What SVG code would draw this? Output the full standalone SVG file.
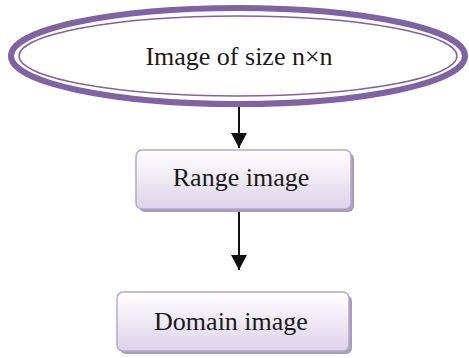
<svg xmlns="http://www.w3.org/2000/svg" width="469" height="358" viewBox="0 0 469 358">
<style>
.t{font-family:"Liberation Serif","Times New Roman",serif;font-size:26px;fill:#1a1a1a;text-anchor:middle}
.box{fill:url(#g);stroke:#b5a8cc;stroke-width:1.5}
.sh{fill:#a89cbc}
.c{stroke:#111;stroke-width:2;fill:none}
</style>
<defs>
<linearGradient id="g" x1="0" y1="0" x2="0" y2="1">
<stop offset="0" stop-color="#ffffff"/>
<stop offset="1" stop-color="#ddd3ea"/>
</linearGradient>
<marker id="a" markerWidth="16" markerHeight="16" refX="15" refY="8" orient="auto" markerUnits="userSpaceOnUse">
<path d="M0,0 L15,8 L0,16 Z" fill="#111"/>
</marker>
</defs>
<g id="connectors">
<line class="c" x1="239" y1="107" x2="239" y2="148" marker-end="url(#a)"/>
<line class="c" x1="239" y1="210" x2="239" y2="270" marker-end="url(#a)"/>
</g>
<g id="n1">
<ellipse cx="238" cy="56" rx="227" ry="48" fill="#fff" stroke="#7f63a3" stroke-width="6"/>
<ellipse cx="238" cy="56" rx="219" ry="40" fill="none" stroke="#7f63a3" stroke-width="1.5"/>
<text class="t" x="239" y="65">Image of size n×n</text>
</g>
<g id="n2">
<rect class="sh" x="139" y="153" width="215" height="59" rx="6"/>
<rect class="box" x="136" y="150" width="215" height="59" rx="6"/>
<text class="t" x="241" y="186">Range image</text>
</g>
<g id="n3">
<rect class="sh" x="120" y="295" width="232" height="59" rx="6"/>
<rect class="box" x="117" y="292" width="232" height="59" rx="6"/>
<text class="t" x="231" y="330">Domain image</text>
</g>
</svg>
